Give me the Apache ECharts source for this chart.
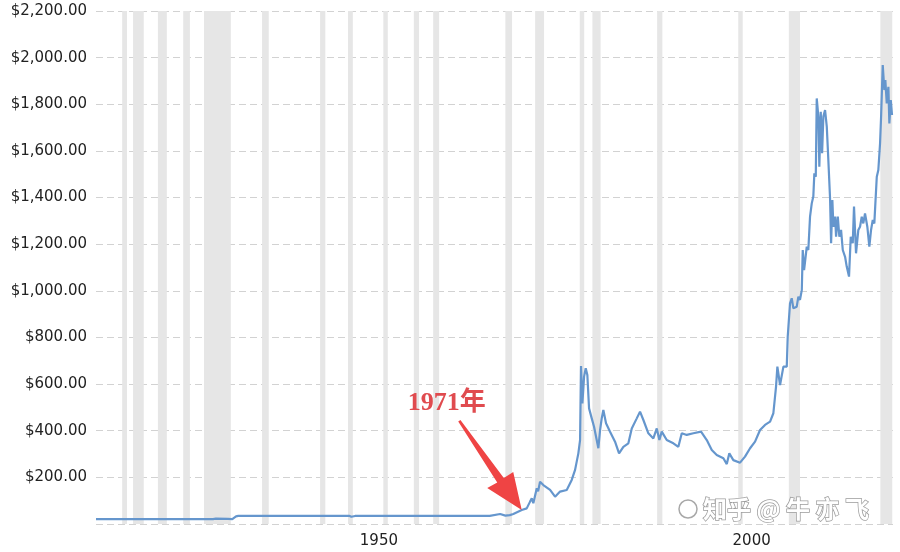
<!DOCTYPE html>
<html>
<head>
<meta charset="utf-8">
<script src="https://cdn.jsdelivr.net/npm/echarts@6/dist/echarts.min.js"></script>
<style>
  html, body { margin: 0; padding: 0; background: #fff; }
  #chart { width: 900px; height: 552px; }
</style>
</head>
<body>
<div id="chart"></div>
<script>
// gold price, USD / oz
const years = [
  1915.08, 1930.8, 1931.2, 1932.8, 1933.4, 1933.9, 1934.2, 1949.1, 1949.4, 1949.9,
  1950.5, 1968.0, 1968.2, 1969.4, 1970.1, 1970.7, 1971.17, 1972.3, 1972.97, 1973.42,
  1973.65, 1973.86, 1974.32, 1974.5, 1974.76, 1975.2, 1976.11, 1976.78, 1977.45, 1978.35,
  1979.02, 1979.47, 1979.91, 1980.14, 1980.27, 1980.45, 1980.68, 1980.9, 1981.12, 1981.35,
  1981.71, 1982.02, 1982.6, 1982.83, 1983.05, 1983.27, 1983.63, 1984.17, 1984.84, 1985.38,
  1985.96, 1986.63, 1987.09, 1987.76, 1988.2, 1988.65, 1989.32, 1989.99, 1990.45, 1990.8,
  1991.12, 1991.79, 1992.68, 1993.35, 1993.81, 1994.48, 1995.37, 1996.4, 1997.17, 1997.84,
  1998.51, 1999.4, 1999.86, 2000.2, 2000.74, 2001.64, 2002.31, 2002.99, 2003.66, 2004.33,
  2005.0, 2005.68, 2006.12, 2006.48, 2006.66, 2007.02, 2007.47, 2007.92, 2008.05, 2008.36,
  2008.59, 2008.81, 2009.26, 2009.48, 2009.7, 2009.94, 2010.07, 2010.25, 2010.61, 2010.82,
  2011.05, 2011.28, 2011.49, 2011.63, 2011.82, 2011.95, 2012.17, 2012.3, 2012.49, 2012.67,
  2012.84, 2013.07, 2013.3, 2013.51, 2013.74, 2013.88, 2014.05, 2014.19, 2014.42, 2014.55,
  2014.78, 2014.99, 2015.22, 2015.45, 2015.76, 2015.98, 2016.29, 2016.52, 2016.79, 2016.96,
  2017.23, 2017.54, 2017.77, 2018.0, 2018.21, 2018.44, 2018.75, 2019.02, 2019.25, 2019.48,
  2019.69, 2020.02, 2020.23, 2020.46, 2020.6, 2020.82, 2021.04, 2021.17, 2021.36, 2021.58,
  2021.71, 2021.9, 2022.07
];
const prices = [
  20.67, 20.67, 23, 22, 21, 33, 35, 35, 31, 34.5,
  35, 35, 41, 43, 36, 38, 43, 60, 67, 96,
  110, 89, 153, 140, 181, 167, 146, 117, 139, 146,
  189, 232, 303, 360, 677, 517, 632, 668, 639, 496,
  453, 417, 325, 403, 453, 489, 432, 396, 353, 303,
  331, 346, 410, 453, 482, 446, 389, 367, 410, 360,
  396, 360, 346, 331, 389, 382, 389, 396, 360, 317,
  296, 282, 257, 303, 274, 263, 289, 325, 353, 403,
  425, 439, 475, 589, 675, 596, 675, 675, 803, 946,
  968, 925, 932, 975, 961, 1003, 1175, 1089, 1189, 1175,
  1318, 1375, 1404, 1504, 1489, 1825, 1747, 1532, 1768, 1590,
  1747, 1775, 1704, 1561, 1397, 1204, 1389, 1275, 1318, 1232,
  1318, 1232, 1261, 1175, 1146, 1104, 1061, 1232, 1204, 1361,
  1161, 1261, 1275, 1318, 1289, 1332, 1275, 1189, 1261, 1304,
  1289, 1489, 1518, 1632, 1747, 1968, 1861, 1904, 1804, 1875,
  1718, 1818, 1754
];

// recession periods (shaded)
const recessions = [
  [1918.6, 1919.25], [1920.06, 1921.5], [1923.4, 1924.6], [1926.8, 1927.7],
  [1929.6, 1933.2], [1937.4, 1938.3], [1945.2, 1945.9], [1948.95, 1949.6],
  [1953.7, 1954.3], [1957.8, 1958.5], [1960.4, 1961.2], [1970.1, 1971.0],
  [1974.1, 1975.3], [1980.1, 1980.7], [1981.8, 1982.9], [1990.5, 1991.2],
  [2001.4, 2002.0], [2008.2, 2009.7], [2020.5, 2022.1]
];

// x axis labels and where they sit
const xLabels = ['1950', '2000'];
const xLabelAt = [1953.1, 2003.2];

// annotation
const noteText = '1971年';
const notePoint = [1972.3, 60];

const chart = echarts.init(document.getElementById('chart'));

const fmtMoney = (v) =>
  '$' + v.toLocaleString('en-US', { minimumFractionDigits: 2, maximumFractionDigits: 2 });

chart.setOption({
  animation: false,
  backgroundColor: '#fff',
  grid: { left: 96, right: 7, top: 11, bottom: 28 },
  xAxis: {
    type: 'value',
    min: 1915.08,
    max: 2022.2,
    axisLine: { show: false },
    axisTick: { show: false },
    splitLine: { show: false },
    axisLabel: {
      customValues: xLabelAt,
      formatter: (v) => {
        const i = xLabelAt.findIndex((a) => Math.abs(a - v) < 0.01);
        return i >= 0 ? xLabels[i] : '';
      },
      margin: 10,
      fontSize: 15,
      fontFamily: 'DejaVu Sans',
      color: '#222'
    }
  },
  yAxis: {
    type: 'value',
    min: 0,
    max: 2200,
    interval: 200,
    axisLine: { show: false },
    axisTick: { show: false },
    axisLabel: {
      formatter: (v) => (v === 0 ? '' : fmtMoney(v)),
      margin: 9,
      fontSize: 15,
      fontFamily: 'DejaVu Sans',
      color: '#222'
    },
    splitLine: {
      lineStyle: { color: '#d2d2d2', type: [7, 4], width: 1 }
    }
  },
  series: [
    {
      type: 'line',
      data: years.map((y, i) => [y, prices[i]]),
      showSymbol: false,
      lineStyle: { color: '#6596cd', width: 2.2 },
      itemStyle: { color: '#6596cd' },
      z: 3,
      markArea: {
        silent: true,
        itemStyle: { color: '#e6e6e6' },
        data: recessions.map((r) => [{ xAxis: r[0] }, { xAxis: r[1] }])
      }
    }
  ]
});

// arrow + note, placed from the data point
const tip = chart.convertToPixel({ gridIndex: 0 }, notePoint);
const tx = tip[0], ty = tip[1];
const arrowShape = [
  [-63.5, -88.5], [-24.5, -27.4], [-34.5, -22], [0, 0],
  [-8.5, -38], [-17.9, -32], [-61.3, -90.1]
].map((p) => [tx + p[0], ty + p[1]]);

chart.setOption({
  graphic: [
    {
      type: 'polygon',
      shape: { points: arrowShape },
      style: { fill: '#ef4444' },
      z: 10
    },
    {
      type: 'text',
      x: tx - 114,
      y: ty - 107,
      style: {
        text: noteText,
        font: 'bold 26px "Liberation Serif", "Noto Sans CJK SC", serif',
        fill: '#e04b4f',
        textVerticalAlign: 'middle'
      },
      z: 10
    },
    {
      type: 'circle',
      shape: { cx: 688, cy: 509, r: 9 },
      style: { fill: 'rgba(255,255,255,0.6)', stroke: '#a8a8a8', lineWidth: 1.5 },
      z: 10
    },
    {
      type: 'text',
      x: 703,
      y: 509,
      style: {
        text: '知乎 @ 牛 亦 飞',
        font: 'bold 24px "Noto Sans CJK SC", sans-serif',
        fill: '#ffffff',
        stroke: '#9c9c9c',
        lineWidth: 1.5,
        textVerticalAlign: 'middle'
      },
      z: 10
    }
  ]
});
</script>
</body>
</html>
